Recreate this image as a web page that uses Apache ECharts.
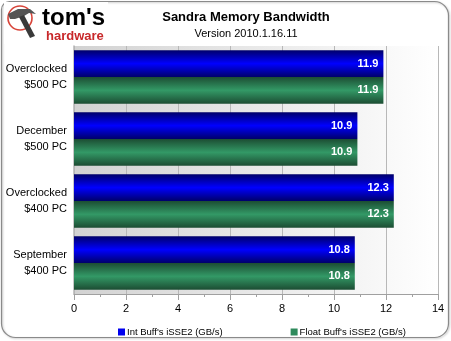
<!DOCTYPE html>
<html>
<head>
<meta charset="utf-8">
<script src="https://cdn.jsdelivr.net/npm/echarts@6/dist/echarts.min.js"></script>
<style>
  html, body { margin: 0; padding: 0; background: #fff; }
  #chart { width: 451px; height: 341px; }
</style>
</head>
<body>
<div id="chart"></div>
<script>
// Systems tested (top to bottom)
const categories = [
  'Overclocked\n$500 PC',
  'December\n$500 PC',
  'Overclocked\n$400 PC',
  'September\n$400 PC'
];
const seriesNames = ["Int Buff's iSSE2 (GB/s)", "Float Buff's iSSE2 (GB/s)"];
const intBuff = [11.9, 10.9, 12.3, 10.8];
const floatBuff = [11.9, 10.9, 12.3, 10.8];
const axisTicks = [0, 2, 4, 6, 8, 10, 12, 14];

const chart = echarts.init(document.getElementById('chart'), null, { renderer: 'canvas' });

function tube(edge, mid) {
  return new echarts.graphic.LinearGradient(0, 0, 0, 1, [
    { offset: 0, color: edge },
    { offset: 0.5, color: mid },
    { offset: 1, color: edge }
  ]);
}

const valueLabel = {
  show: true,
  position: 'insideRight',
  distance: 5,
  color: '#ffffff',
  fontFamily: 'Liberation Sans, Arial, sans-serif',
  fontWeight: 'bold',
  fontSize: 11,
  formatter: p => p.value.toFixed(1)
};

chart.setOption({
  animation: false,
  backgroundColor: '#ffffff',
  title: {
    text: 'Sandra Memory Bandwidth',
    subtext: 'Version 2010.1.16.11',
    left: 241,
    textAlign: 'center',
    top: 6,
    itemGap: 4,
    textStyle: { fontFamily: 'Liberation Sans, Arial, sans-serif', fontWeight: 'bold', fontSize: 13, color: '#000' },
    subtextStyle: { fontFamily: 'Liberation Sans, Arial, sans-serif', fontSize: 11, color: '#000' }
  },
  legend: {
    data: [
      { name: seriesNames[0], itemStyle: { color: '#0000ee' } },
      { name: seriesNames[1], itemStyle: { color: '#2e8a5c' } }
    ],
    left: 113,
    top: 322,
    itemWidth: 7,
    itemHeight: 7,
    itemGap: 68,
    icon: 'rect',
    textStyle: { fontFamily: 'Liberation Sans, Arial, sans-serif', fontSize: 9.5, color: '#000', padding: [0, 0, 0, -3] }
  },
  grid: {
    left: 74,
    right: 13,
    top: 46,
    bottom: 47,
    show: true,
    borderWidth: 0,
    backgroundColor: new echarts.graphic.LinearGradient(0, 0, 1, 0, [
      { offset: 0, color: '#d2d2d2' },
      { offset: 1, color: '#ffffff' }
    ])
  },
  xAxis: {
    type: 'value',
    min: axisTicks[0],
    max: axisTicks[axisTicks.length - 1],
    interval: 2,
    axisLine: { show: true, lineStyle: { color: '#a0a0a0', width: 1 } },
    axisTick: { show: true, length: 6, lineStyle: { color: '#a0a0a0' } },
    minorTick: { show: true, splitNumber: 2, length: 3, lineStyle: { color: '#a0a0a0' } },
    axisLabel: {
      margin: 9,
      color: '#000',
      fontFamily: 'Liberation Sans, Arial, sans-serif',
      fontSize: 11,
      formatter: v => axisTicks.includes(v) ? String(v) : ''
    },
    splitLine: { show: true, lineStyle: { color: '#b8b8b8', width: 1 } }
  },
  yAxis: {
    type: 'category',
    data: categories,
    inverse: true,
    axisLine: { show: true, lineStyle: { color: '#b4b4b4', width: 1.5 } },
    axisTick: { show: false },
    axisLabel: {
      margin: 7,
      color: '#000',
      fontFamily: 'Liberation Sans, Arial, sans-serif',
      fontSize: 11,
      lineHeight: 16,
      align: 'right'
    }
  },
  series: [
    {
      name: seriesNames[0],
      type: 'bar',
      data: intBuff,
      barGap: '0%',
      barCategoryGap: '14%',
      itemStyle: { color: tube('#00006a', '#0000ff') },
      label: valueLabel
    },
    {
      name: seriesNames[1],
      type: 'bar',
      data: floatBuff,
      itemStyle: { color: tube('#1c4d33', '#339966') },
      label: valueLabel
    }
  ],
  graphic: [
    {
      type: 'rect',
      silent: true,
      z: -10,
      shape: { x: 1.5, y: 1.5, width: 447, height: 336, r: [8, 14, 14, 14] },
      style: { fill: 'none', stroke: '#8a8a8a', lineWidth: 1.2, shadowColor: 'rgba(0,0,0,0.25)', shadowBlur: 2, shadowOffsetX: 1, shadowOffsetY: 1 }
    },
    // logo: hammer inside a red ring, then the wordmark
    {
      type: 'group',
      left: 4,
      top: 2,
      children: [
        { type: 'rect', shape: { x: 0, y: 0, width: 104, height: 42 }, style: { fill: '#ffffff' } },
        { type: 'circle', shape: { cx: 16, cy: 16, r: 12 }, style: { fill: 'none', stroke: '#d8453a', lineWidth: 1.6 } },
        { type: 'polygon', shape: { points: [[4, 12], [14, 7], [26, 7], [32, 12], [25, 11], [20, 14], [11, 17], [6, 17]] }, style: { fill: '#555' } },
        { type: 'polygon', shape: { points: [[15, 15], [20, 13], [31, 34], [26, 36]] }, style: { fill: '#3a3a3a' } },
        { type: 'text', style: { x: 38, y: 4, text: "tom's", fill: '#000', font: 'bold 24px "Liberation Sans", Arial, sans-serif' } },
        { type: 'text', style: { x: 42, y: 28, text: 'hardware', fill: '#c8282a', font: 'bold 13px "Liberation Sans", Arial, sans-serif' } }
      ]
    }
  ]
});
</script>
</body>
</html>
